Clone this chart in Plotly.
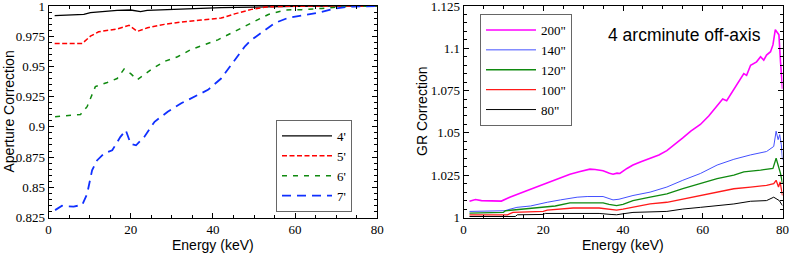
import plotly.graph_objects as go

# ---------------- Left panel: Aperture correction ----------------
e4 = [1.5, 8.6, 10.2, 12.6, 16.7, 20, 21.5, 22.4, 24, 29, 34.7, 42, 50, 55, 60, 70, 80]
a4 = [0.992, 0.993, 0.9945, 0.9953, 0.9964, 0.9967, 0.9962, 0.9953, 0.9964, 0.997, 0.9978,
      0.9986, 0.999, 0.9995, 0.9998, 1.0, 1.0]

e5 = [1.5, 8.2, 10.2, 12.2, 16.7, 19.6, 21.6, 24.1, 28.2, 32.2, 37.1, 42, 45.3, 49.4, 53,
      58, 65, 80]
a5 = [0.969, 0.969, 0.975, 0.9787, 0.981, 0.984, 0.979, 0.982, 0.9848, 0.9867, 0.9884, 0.990,
      0.9935, 0.9972, 0.9992, 0.9998, 1.0, 1.0]

e6 = [1.6, 7.8, 9.4, 11.4, 14.3, 16.7, 18.4, 20, 21.6, 24.9, 28.1, 31.4, 34.7, 37.1, 41.2,
      45.3, 49.4, 53.5, 57.5, 61.6, 66.5, 72, 80]
a6 = [0.9083, 0.9103, 0.9167, 0.9333, 0.9367, 0.940, 0.9478, 0.944, 0.939, 0.9472, 0.954,
      0.958, 0.964, 0.967, 0.972, 0.979, 0.986, 0.993, 0.9967, 0.997, 0.998, 0.9995, 1.0]

e7 = [1.6, 3.3, 6.1, 8.2, 9.4, 10.6, 11.8, 13.5, 15.5, 17.5, 18.8, 20, 21.3, 23.3, 25.8, 29,
      32.3, 35.5, 38.8, 42, 44.5, 46.1, 47.8, 49.4, 51.9, 55.1, 58.4, 61.6, 65.7, 69.8, 73, 80]
a7 = [0.8311, 0.8347, 0.834, 0.8355, 0.8445, 0.864, 0.8722, 0.878, 0.8806, 0.8917, 0.8972,
      0.886, 0.8847, 0.8917, 0.9042, 0.9125, 0.9195, 0.925, 0.9306, 0.940, 0.9514, 0.9597,
      0.9667, 0.972, 0.978, 0.986, 0.9903, 0.992, 0.9945, 0.998, 0.9995, 1.0]

left_names = ["4'", "5'", "6'", "7'"]

# ---------------- Right panel: GR correction ----------------
e200 = [1.5, 3, 4.5, 6, 9.5, 11.6, 14, 16, 18.3, 20.5, 22.5, 24.5, 26.7, 29, 31.7, 33, 35,
        36.6, 37.5, 38.5, 39.2, 41, 42.5, 44.5, 46.8, 49, 51, 53, 55, 57, 59.4, 61.5, 63.6,
        65, 66, 67.8, 69, 70.3, 71, 72, 73.5, 74.5, 75.3, 76, 77, 77.6, 78.2, 78.7, 79.1,
        79.5, 80]
g200 = [1.0096, 1.0106, 1.0100, 1.0098, 1.0097, 1.012, 1.0144, 1.016, 1.018, 1.020, 1.022,
        1.0238, 1.0256, 1.027, 1.0286, 1.0284, 1.0276, 1.0262, 1.0256, 1.0262, 1.026, 1.029,
        1.031, 1.033, 1.035, 1.037, 1.0395, 1.043, 1.047, 1.051, 1.055, 1.060, 1.066, 1.070,
        1.069, 1.076, 1.080, 1.085, 1.084, 1.090, 1.092, 1.095, 1.093, 1.096, 1.098, 1.102,
        1.111, 1.109, 1.108, 1.092, 1.076]

e140 = [1.5, 10.5, 11, 13.4, 16.8, 18, 21, 24.3, 28.5, 31, 35, 36.5, 37.5, 39, 42.5, 46.8,
        51, 55, 59.4, 63.6, 67.8, 72, 76, 77.8, 78.4, 78.9, 79.3, 79.7, 80]
g140 = [1.0036, 1.004, 1.0045, 1.006, 1.0068, 1.0075, 1.009, 1.0104, 1.012, 1.0124, 1.0124,
        1.0112, 1.0104, 1.0108, 1.013, 1.015, 1.018, 1.022, 1.026, 1.031, 1.0344, 1.037,
        1.039, 1.042, 1.051, 1.046, 1.049, 1.043, 1.034]

e120 = [1.5, 10, 10.5, 13, 17, 21, 23, 26.7, 35, 36.5, 38.4, 40, 42.5, 46.8, 51, 55, 59.4,
        63.6, 67.8, 70.3, 74.5, 77.6, 78.4, 79, 79.5, 80]
g120 = [1.0026, 1.003, 1.004, 1.0046, 1.0052, 1.0064, 1.0068, 1.0086, 1.0086, 1.0078, 1.007,
        1.0078, 1.010, 1.012, 1.014, 1.017, 1.020, 1.023, 1.025, 1.027, 1.028, 1.029, 1.035,
        1.030, 1.026, 1.020]

e100 = [1.5, 11, 12.4, 20, 21, 27.5, 34, 36.5, 38.4, 40, 42.5, 46.8, 51, 55, 59.4, 63.6,
        67.8, 72, 76, 77.8, 78.4, 79, 79.4, 79.7, 80]
g100 = [1.0016, 1.0016, 1.003, 1.0036, 1.0044, 1.0056, 1.0056, 1.005, 1.0044, 1.005, 1.006,
        1.008, 1.009, 1.011, 1.013, 1.015, 1.017, 1.018, 1.019, 1.020, 1.022, 1.018, 1.021,
        1.017, 1.013]

e80 = [1.5, 13, 13.5, 20, 20.5, 34, 37, 38.4, 40, 42.5, 51, 55, 59.4, 63.6, 67.8, 72, 76,
       77.8, 78.5, 79.2, 80]
g80 = [1.0006, 1.0006, 1.0016, 1.0018, 1.0024, 1.0024, 1.0018, 1.0016, 1.0022, 1.003,
       1.0036, 1.005, 1.006, 1.007, 1.008, 1.0096, 1.010, 1.012, 1.011, 1.010, 1.007]

right_names = ['200"', '140"', '120"', '100"', '80"']

# tick labels
x_ticks = [0, 20, 40, 60, 80]
left_yticks = [0.825, 0.85, 0.875, 0.9, 0.925, 0.95, 0.975, 1.0]
left_ylabels = ["0.825", "0.85", "0.875", "0.9", "0.925", "0.95", "0.975", "1"]
right_yticks = [1.0, 1.025, 1.05, 1.075, 1.1, 1.125]
right_ylabels = ["1", "1.025", "1.05", "1.075", "1.1", "1.125"]

fig = go.Figure()

left_series = [(e4, a4, "black", "solid", 1.3), (e5, a5, "#ff0000", "5px,2.5px", 1.5),
               (e6, a6, "#108a10", "5px,6px", 1.5), (e7, a7, "#1030ff", "9px,6px", 1.8)]
for (x, y, c, d, w), n in zip(left_series, left_names):
    fig.add_trace(go.Scatter(x=x, y=y, mode="lines", name=n, xaxis="x", yaxis="y",
                             line=dict(color=c, dash=d, width=w), legend="legend"))

right_series = [(e200, g200, "#ff00ff", 1.6), (e140, g140, "#4450ff", 1),
                (e120, g120, "#108a10", 1.3), (e100, g100, "#ff1a1a", 1.3),
                (e80, g80, "black", 1)]
for (x, y, c, w), n in zip(right_series, right_names):
    fig.add_trace(go.Scatter(x=x, y=y, mode="lines", name=n, xaxis="x2", yaxis="y2",
                             line=dict(color=c, width=w), legend="legend2"))

tickfont = dict(family="Liberation Serif", size=13, color="black")
common = dict(showline=True, linecolor="black", linewidth=1, mirror="ticks",
              ticks="inside", ticklen=5, tickcolor="black", tickwidth=1,
              showgrid=False, zeroline=False, tickfont=tickfont, automargin=False,
              ticklabeloverflow="allow")
minor = dict(ticks="inside", ticklen=3, tickcolor="black", tickwidth=1, showgrid=False,
             tickmode="linear", tick0=0)

fig.update_layout(
    template="none",
    width=789, height=267,
    margin=dict(l=0, r=0, t=0, b=0, pad=0),
    paper_bgcolor="white", plot_bgcolor="white",
    xaxis=dict(domain=[48.5 / 789, 377.3 / 789], range=[0, 80], tickmode="array",
               tickvals=x_ticks, minor=dict(dtick=5, **minor), anchor="y", **common),
    yaxis=dict(domain=[1 - 217.5 / 267, 1 - 6 / 267], range=[0.825, 1.0], tickmode="array",
               tickvals=left_yticks, ticktext=left_ylabels,
               minor=dict(dtick=0.005, **minor), anchor="x", **common),
    xaxis2=dict(domain=[463.5 / 789, 782.5 / 789], range=[0, 80], tickmode="array",
                tickvals=x_ticks, minor=dict(dtick=5, **minor), anchor="y2", **common),
    yaxis2=dict(domain=[1 - 217.5 / 267, 1 - 6 / 267], range=[1.0, 1.125], tickmode="array",
                tickvals=right_yticks, ticktext=right_ylabels,
                minor=dict(dtick=0.005, **minor), anchor="x2", **common),
    legend=dict(x=276 / 789, y=1 - 120 / 267, xanchor="left", yanchor="top",
                bordercolor="#666", borderwidth=1, bgcolor="white",
                font=dict(family="Liberation Serif", size=13, color="black"),
                tracegroupgap=0, itemwidth=50, entrywidth=50),
    legend2=dict(x=480 / 789, y=1 - 14 / 267, xanchor="left", yanchor="top",
                 bordercolor="#666", borderwidth=1, bgcolor="white",
                 font=dict(family="Liberation Serif", size=13, color="black"),
                 tracegroupgap=0, itemwidth=50, entrywidth=95),
    showlegend=True,
)

title_font = dict(family="Liberation Sans", size=14, color="black")
ann = dict(xref="paper", yref="paper", showarrow=False, xanchor="center", yanchor="middle")
fig.add_annotation(text="Aperture Correction", x=8.5 / 789, y=1 - 112 / 267, textangle=-90,
                   font=title_font, **ann)
fig.add_annotation(text="Energy (keV)", x=212.8 / 789, y=1 - 245 / 267, font=title_font, **ann)
fig.add_annotation(text="GR Correction", x=422 / 789, y=1 - 112 / 267, textangle=-90,
                   font=title_font, **ann)
fig.add_annotation(text="Energy (keV)", x=623 / 789, y=1 - 245 / 267, font=title_font, **ann)
fig.add_annotation(text="4 arcminute off-axis", x=684 / 789, y=1 - 35 / 267,
                   font=dict(family="Liberation Sans", size=17.5, color="black"), **ann)

fig.write_html("out.html", config={"displayModeBar": False},
               post_script="document.body.style.margin='0';document.body.style.overflow='hidden';")
